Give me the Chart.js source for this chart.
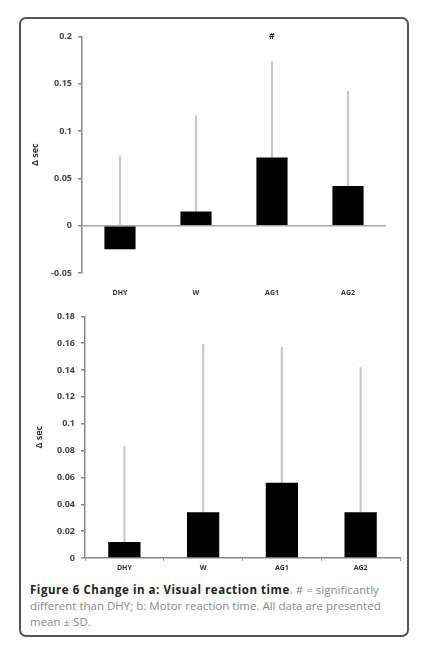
<!DOCTYPE html>
<html>
<head>
<meta charset="utf-8">
<script src="https://cdn.jsdelivr.net/npm/chart.js@4/dist/chart.umd.min.js"></script>
<style>
  html, body { margin: 0; padding: 0; background: #fff; width: 424px; height: 652px; overflow: hidden; }
  #frame { position: absolute; left: 19px; top: 17px; width: 386px; height: 616px; border: 2px solid #555; border-radius: 7px; }
  canvas { position: absolute; }
  #cTop { left: 28px; top: 25px; }
  #cBot { left: 32px; top: 305px; }
  #caption { position: absolute; left: 30px; top: 582px; width: 378px; font-family: "Open Sans", sans-serif; font-size: 11.5px; line-height: 16px; color: #8a8a8a; white-space: nowrap; }
  #caption b { color: #222; letter-spacing: 0.55px; }
</style>
</head>
<body>
<div id="frame"></div>
<canvas id="cTop" width="362" height="270"></canvas>
<canvas id="cBot" width="372" height="273"></canvas>
<div id="caption"><b>Figure 6 Change in a: Visual reaction time</b>. # = significantly<br>different than DHY; b: Motor reaction time. All data are presented<br>mean ± SD.</div>
<script>
// ---- data ----
const categories = ['DHY', 'W', 'AG1', 'AG2'];
// a: Visual reaction time
const visualMean = [-0.025, 0.015, 0.072, 0.042];
const visualUpper = [0.074, 0.116, 0.173, 0.142];   // mean + SD (top of error bar)
const visualMarks = ['', '', '#', ''];
const visualTicks = [-0.05, 0, 0.05, 0.1, 0.15, 0.2];
// b: Motor reaction time
const motorMean = [0.012, 0.034, 0.056, 0.034];
const motorUpper = [0.083, 0.159, 0.157, 0.142];
const motorTicks = [0, 0.02, 0.04, 0.06, 0.08, 0.1, 0.12, 0.14, 0.16, 0.18];
const yTitle = 'Δ sec';

const tickFont = { family: '"Open Sans", sans-serif', size: 9, weight: 'bold' };
const catFont = { family: '"Open Sans", sans-serif', size: 7, weight: 'bold' };

const markPlugin = {
  id: 'marks',
  afterDatasetsDraw(chart, args, opts) {
    const marks = opts.marks || [];
    const ctx = chart.ctx;
    const x = chart.scales.x, y = chart.scales.y;
    ctx.save();
    ctx.fillStyle = '#333';
    ctx.font = 'bold 9px "Open Sans", sans-serif';
    ctx.textAlign = 'center';
    ctx.textBaseline = 'middle';
    marks.forEach((m, i) => {
      if (m) ctx.fillText(m, x.getPixelForValue(i), y.getPixelForValue(y.max));
    });
    ctx.restore();
  }
};

function makeChart(id, means, uppers, ticks, marks, cfg) {
  return new Chart(document.getElementById(id), {
    type: 'bar',
    data: {
      labels: categories,
      datasets: [
        { data: means, backgroundColor: '#000', borderWidth: 0, barPercentage: 0.41, categoryPercentage: 1, grouped: false, order: 1 },
        { data: means.map((m, i) => [m, uppers[i]]), backgroundColor: '#c8c8c8', borderWidth: 0, barThickness: 1.5, grouped: false, order: 2 }
      ]
    },
    options: {
      responsive: false,
      animation: false,
      layout: { padding: { top: cfg.padTop, right: 4, left: 0, bottom: 0 } },
      plugins: { legend: { display: false }, tooltip: { enabled: false }, marks: { marks: marks } },
      scales: {
        x: {
          afterFit: s => { s.height = cfg.xHeight; },
          grid: cfg.xGrid,
          border: cfg.xBorder,
          ticks: { color: '#333', font: catFont, padding: cfg.xPad, maxRotation: 0 }
        },
        y: {
          min: ticks[0], max: ticks[ticks.length - 1],
          afterBuildTicks: s => { s.ticks = ticks.map(v => ({ value: v })); },
          afterFit: s => { s.width = cfg.yWidth; },
          grid: {
            drawOnChartArea: cfg.zeroLine,
            color: c => (c.tick && c.tick.value === 0) ? '#a8a8a8' : 'rgba(0,0,0,0)',
            lineWidth: 1.5,
            tickColor: '#888', tickLength: 4, drawTicks: true
          },
          border: { color: '#888', width: 1.5 },
          ticks: { color: '#454555', font: tickFont, padding: 6, callback: v => String(Number(v.toFixed(3))) },
          title: { display: true, text: yTitle, color: '#333', font: { family: '"Open Sans", sans-serif', size: 9, weight: 'bold' }, padding: { top: 2, bottom: 0 } }
        }
      }
    },
    plugins: [markPlugin]
  });
}

makeChart('cTop', visualMean, visualUpper, visualTicks, visualMarks, {
  padTop: 8, xHeight: 22, yWidth: 54, xPad: 8, zeroLine: true,
  xGrid: { display: false }, xBorder: { display: false }
});
makeChart('cBot', motorMean, motorUpper, motorTicks, [], {
  padTop: 10, xHeight: 20, yWidth: 53, xPad: 3, zeroLine: false,
  xGrid: { drawOnChartArea: false, tickLength: 3, tickColor: '#999', offset: true },
  xBorder: { color: '#888', width: 1.5 }
});
</script>
</body>
</html>
